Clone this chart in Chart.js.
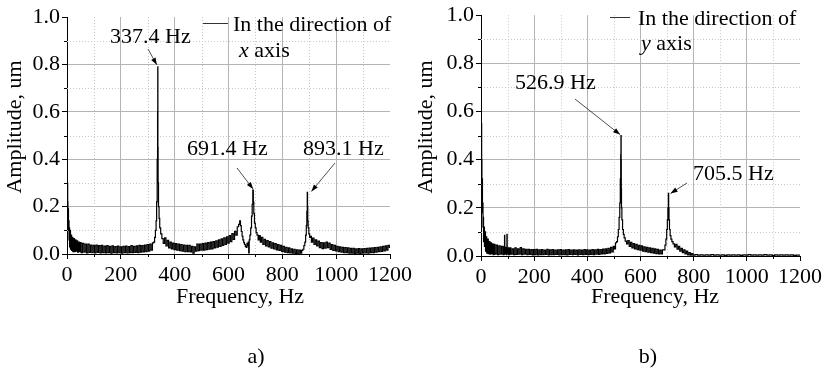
<!DOCTYPE html>
<html>
<head>
<meta charset="utf-8">
<script src="https://cdn.jsdelivr.net/npm/chart.js@4.4.1/dist/chart.umd.min.js"></script>
<style>
  body { margin: 0; background: #fff; width: 833px; height: 376px; overflow: hidden; position: relative; }
  canvas { position: absolute; top: 0; }
  #chartA { left: 0; }
  #chartB { left: 416px; }
</style>
</head>
<body>
<canvas id="chartA" width="416" height="376"></canvas>
<canvas id="chartB" width="417" height="376"></canvas>
<script>
// Spectrum a) - direction of x axis
const freqA = [
  0, 1, 2, 3, 4, 5, 6, 7, 8, 9,
  10, 12, 14, 16, 18, 20, 23, 26, 29, 32,
  35, 38, 41, 44, 47, 50, 55, 60, 65, 70,
  75, 80, 85, 90, 95, 100, 105, 110, 115, 120,
  125, 130, 135, 140, 145, 150, 155, 160, 165, 170,
  175, 180, 185, 190, 195, 200, 205, 210, 215, 220,
  225, 230, 235, 240, 245, 250, 255, 260, 265, 270,
  275, 280, 285, 290, 295, 300, 305, 310, 315, 320,
  324, 327, 330, 332, 334, 336, 337, 337.4, 338, 339,
  341, 343, 346, 350, 355, 360, 365, 370, 375, 380,
  385, 390, 395, 400, 405, 410, 415, 420, 425, 430,
  435, 440, 445, 450, 455, 460, 465, 470, 475, 480,
  485, 490, 495, 500, 505, 510, 515, 520, 525, 530,
  535, 540, 545, 550, 555, 560, 565, 570, 575, 580,
  585, 590, 595, 600, 605, 610, 615, 620, 625, 630,
  635, 640, 643, 646, 649, 652, 655, 658, 661, 664,
  667, 670, 672, 674, 676, 678, 681, 684, 687, 689,
  691.4, 693, 695, 698, 701, 704, 708, 712, 716, 720,
  725, 730, 735, 740, 745, 750, 755, 760, 765, 770,
  775, 780, 785, 790, 795, 800, 805, 810, 815, 820,
  825, 830, 835, 840, 845, 850, 855, 860, 865, 870,
  874, 878, 882, 885, 888, 890, 892, 893.1, 894, 895,
  897, 900, 903, 906, 910, 915, 920, 925, 930, 935,
  940, 945, 950, 955, 960, 965, 970, 975, 980, 985,
  990, 995, 1000, 1005, 1010, 1015, 1020, 1025, 1030, 1035,
  1040, 1045, 1050, 1055, 1060, 1065, 1070, 1075, 1080, 1085,
  1090, 1095, 1100, 1105, 1110, 1115, 1120, 1125, 1130, 1135,
  1140, 1145, 1150, 1155, 1160, 1165, 1170, 1175, 1180, 1185,
  1190, 1195, 1200
];
const ampA = [
  0.28, 0.52, 0.30, 0.22, 0.15, 0.19, 0.10, 0.14, 0.06, 0.11,
  0.03, 0.10, 0.02, 0.08, 0.015, 0.07, 0.01, 0.065, 0.01, 0.06,
  0.012, 0.055, 0.008, 0.05, 0.01, 0.048, 0.006, 0.045, 0.008, 0.042,
  0.005, 0.042, 0.007, 0.038, 0.006, 0.036, 0.005, 0.038, 0.007, 0.035,
  0.005, 0.036, 0.006, 0.033, 0.005, 0.035, 0.006, 0.032, 0.004, 0.034,
  0.006, 0.031, 0.005, 0.033, 0.006, 0.030, 0.004, 0.032, 0.006, 0.033,
  0.005, 0.031, 0.006, 0.035, 0.006, 0.032, 0.007, 0.034, 0.006, 0.036,
  0.008, 0.035, 0.009, 0.038, 0.010, 0.040, 0.012, 0.042, 0.016, 0.047,
  0.05, 0.07, 0.10, 0.14, 0.22, 0.40, 0.60, 0.79, 0.45, 0.30,
  0.20, 0.15, 0.11, 0.085, 0.065, 0.045, 0.068, 0.034, 0.058, 0.026,
  0.050, 0.022, 0.046, 0.018, 0.044, 0.016, 0.042, 0.014, 0.040, 0.012,
  0.038, 0.010, 0.037, 0.010, 0.036, 0.009, 0.032, 0.004, 0.030, 0.012,
  0.042, 0.014, 0.042, 0.016, 0.044, 0.016, 0.046, 0.018, 0.048, 0.020,
  0.050, 0.022, 0.052, 0.026, 0.056, 0.029, 0.060, 0.032, 0.064, 0.036,
  0.068, 0.040, 0.072, 0.046, 0.078, 0.052, 0.086, 0.062, 0.096, 0.080,
  0.115, 0.125, 0.14, 0.12, 0.095, 0.075, 0.06, 0.048, 0.04, 0.032,
  0.028, 0.045, 0.035, 0.05, 0.005, 0.06, 0.08, 0.11, 0.16, 0.21,
  0.27, 0.22, 0.17, 0.13, 0.11, 0.09, 0.08, 0.060, 0.078, 0.050,
  0.070, 0.040, 0.062, 0.034, 0.057, 0.030, 0.052, 0.025, 0.047, 0.021,
  0.044, 0.017, 0.040, 0.015, 0.036, 0.011, 0.032, 0.008, 0.028, 0.006,
  0.026, 0.005, 0.022, 0.004, 0.020, 0.003, 0.018, 0.002, 0.016, 0.004,
  0.015, 0.02, 0.035, 0.05, 0.08, 0.12, 0.18, 0.26, 0.20, 0.14,
  0.11, 0.085, 0.07, 0.075, 0.050, 0.067, 0.040, 0.060, 0.034, 0.054,
  0.027, 0.048, 0.023, 0.047, 0.025, 0.050, 0.027, 0.046, 0.019, 0.040,
  0.015, 0.036, 0.013, 0.032, 0.010, 0.030, 0.008, 0.028, 0.006, 0.027,
  0.006, 0.026, 0.004, 0.024, 0.004, 0.024, 0.003, 0.022, 0.004, 0.023,
  0.003, 0.022, 0.004, 0.023, 0.005, 0.024, 0.004, 0.025, 0.006, 0.026,
  0.006, 0.027, 0.008, 0.028, 0.010, 0.030, 0.011, 0.032, 0.013, 0.034,
  0.016, 0.036, 0.028
];

// Spectrum b) - direction of y axis
const freqB = [
  0, 1, 2, 3, 4, 5, 6, 7, 8, 9,
  10, 12, 14, 16, 18, 20, 23, 26, 29, 32,
  35, 38, 41, 44, 47, 50, 55, 60, 65, 70,
  75, 80, 85, 88, 89, 90, 95, 97, 98, 99,
  102, 106, 110, 115, 120, 125, 130, 135, 140, 145,
  150, 155, 160, 165, 170, 175, 180, 185, 190, 195,
  200, 205, 210, 215, 220, 225, 230, 235, 240, 245,
  250, 255, 260, 265, 270, 275, 280, 285, 290, 295,
  300, 305, 310, 315, 320, 325, 330, 335, 340, 345,
  350, 355, 360, 365, 370, 375, 380, 385, 390, 395,
  400, 405, 410, 415, 420, 425, 430, 435, 440, 445,
  450, 455, 460, 465, 470, 475, 480, 485, 490, 495,
  500, 504, 508, 512, 515, 518, 521, 523, 525, 526,
  526.9, 527.5, 528, 529, 531, 534, 537, 540, 545, 550,
  555, 560, 565, 570, 575, 580, 585, 590, 595, 600,
  605, 610, 615, 620, 625, 630, 635, 640, 645, 650,
  655, 660, 665, 670, 675, 680, 685, 690, 694, 697,
  700, 702, 704, 705.5, 706.5, 708, 710, 713, 716, 720,
  725, 730, 735, 740, 745, 750, 755, 760, 765, 770,
  775, 780, 785, 790, 795, 800, 810, 820, 830, 840,
  850, 860, 870, 880, 890, 900, 910, 920, 930, 940,
  950, 960, 970, 980, 990, 1000, 1010, 1020, 1030, 1040,
  1050, 1060, 1070, 1080, 1090, 1100, 1110, 1120, 1130, 1140,
  1150, 1160, 1170, 1180, 1190, 1200
];
const ampB = [
  0.35, 0.80, 0.55, 0.40, 0.28, 0.32, 0.18, 0.22, 0.12, 0.16,
  0.06, 0.12, 0.04, 0.10, 0.02, 0.08, 0.012, 0.07, 0.01, 0.06,
  0.008, 0.055, 0.01, 0.05, 0.006, 0.048, 0.008, 0.045, 0.006, 0.042,
  0.008, 0.040, 0.006, 0.038, 0.086, 0.008, 0.036, 0.006, 0.090, 0.010,
  0.034, 0.006, 0.034, 0.008, 0.030, 0.006, 0.034, 0.007, 0.030, 0.008,
  0.035, 0.006, 0.030, 0.008, 0.028, 0.006, 0.028, 0.007, 0.027, 0.005,
  0.027, 0.006, 0.028, 0.005, 0.026, 0.006, 0.027, 0.006, 0.025, 0.007,
  0.028, 0.005, 0.026, 0.006, 0.027, 0.006, 0.025, 0.007, 0.026, 0.005,
  0.027, 0.006, 0.025, 0.006, 0.026, 0.005, 0.027, 0.007, 0.025, 0.006,
  0.026, 0.007, 0.024, 0.005, 0.026, 0.007, 0.025, 0.006, 0.027, 0.007,
  0.026, 0.006, 0.025, 0.007, 0.027, 0.006, 0.026, 0.008, 0.028, 0.007,
  0.027, 0.009, 0.029, 0.009, 0.030, 0.011, 0.032, 0.013, 0.036, 0.017,
  0.040, 0.030, 0.055, 0.06, 0.08, 0.11, 0.16, 0.22, 0.32, 0.42,
  0.50, 0.40, 0.28, 0.20, 0.15, 0.11, 0.09, 0.075, 0.062, 0.050,
  0.064, 0.040, 0.057, 0.034, 0.052, 0.030, 0.048, 0.026, 0.044, 0.024,
  0.042, 0.020, 0.038, 0.018, 0.036, 0.016, 0.034, 0.014, 0.032, 0.012,
  0.030, 0.010, 0.028, 0.009, 0.024, 0.009, 0.026, 0.025, 0.045, 0.07,
  0.11, 0.15, 0.20, 0.26, 0.20, 0.15, 0.11, 0.085, 0.07, 0.06,
  0.05, 0.038, 0.048, 0.028, 0.040, 0.020, 0.032, 0.014, 0.026, 0.009,
  0.020, 0.005, 0.014, 0.004, 0.010, 0.004, 0.006, 0.004, 0.005, 0.004,
  0.005, 0.004, 0.006, 0.004, 0.005, 0.004, 0.005, 0.003, 0.005, 0.004,
  0.005, 0.004, 0.005, 0.003, 0.005, 0.004, 0.006, 0.004, 0.005, 0.004,
  0.005, 0.004, 0.006, 0.004, 0.005, 0.003, 0.005, 0.004, 0.005, 0.004,
  0.005, 0.004, 0.005, 0.003, 0.004, 0.004
];

// Marked peaks
const peaksA = [337.4, 691.4, 893.1];
const peakAmpA = [0.79, 0.27, 0.26];
const peaksB = [526.9, 705.5];
const peakAmpB = [0.50, 0.26];

// Minor grid positions (dotted)
const minorFreq = [100, 300, 500, 700, 900, 1100];
const minorAmp = [0.1, 0.3, 0.5, 0.7, 0.9];

const FONT = "'Liberation Serif', 'Times New Roman', serif";

function arrow(ctx, x1, y1, x2, y2) {
    ctx.beginPath();
    ctx.moveTo(x1, y1);
    ctx.lineTo(x2, y2);
    ctx.stroke();
    const a = Math.atan2(y2 - y1, x2 - x1), L = 7, W = 2.5;
    ctx.beginPath();
    ctx.moveTo(x2, y2);
    ctx.lineTo(x2 - L * Math.cos(a) + W * Math.sin(a), y2 - L * Math.sin(a) - W * Math.cos(a));
    ctx.lineTo(x2 - L * Math.cos(a) - W * Math.sin(a), y2 - L * Math.sin(a) + W * Math.cos(a));
    ctx.closePath();
    ctx.fill();
}

// Draws minor grid, minor ticks, legend, peak labels, axis titles and caption
const decorPlugin = {
    id: 'decor',
    beforeDatasetsDraw: (chart, args, o) => {
        const ctx = chart.ctx, area = chart.chartArea, x = chart.scales.x, y = chart.scales.y;
        ctx.save();
        ctx.strokeStyle = '#c8c8c8';
        ctx.lineWidth = 1;
        ctx.setLineDash([1, 2]);
        minorFreq.forEach(f => {
            const px = Math.round(x.getPixelForValue(f)) + 0.5;
            ctx.beginPath(); ctx.moveTo(px, area.top); ctx.lineTo(px, area.bottom); ctx.stroke();
        });
        minorAmp.forEach(v => {
            const py = Math.round(y.getPixelForValue(v)) + 0.5;
            ctx.beginPath(); ctx.moveTo(area.left, py); ctx.lineTo(area.right, py); ctx.stroke();
        });
        ctx.restore();
    },
    afterDraw: (chart, args, o) => {
        const ctx = chart.ctx, area = chart.chartArea, x = chart.scales.x, y = chart.scales.y;
        ctx.save();
        // minor ticks
        ctx.strokeStyle = '#000';
        ctx.lineWidth = 1;
        minorFreq.forEach(f => {
            const px = Math.round(x.getPixelForValue(f)) + 0.5;
            ctx.beginPath(); ctx.moveTo(px, area.bottom); ctx.lineTo(px, area.bottom + 3); ctx.stroke();
        });
        minorAmp.forEach(v => {
            const py = Math.round(y.getPixelForValue(v)) + 0.5;
            ctx.beginPath(); ctx.moveTo(area.left, py); ctx.lineTo(area.left - 3, py); ctx.stroke();
        });

        ctx.fillStyle = '#000';
        ctx.font = '22px ' + FONT;
        ctx.textBaseline = 'alphabetic';

        // legend
        const lg = o.legend;
        ctx.strokeStyle = '#333';
        ctx.beginPath(); ctx.moveTo(lg.x1, lg.ly); ctx.lineTo(lg.x2, lg.ly); ctx.stroke();
        ctx.textAlign = 'left';
        ctx.fillText('In the direction of', lg.tx, lg.ty1);
        ctx.font = 'italic 22px ' + FONT;
        ctx.fillText(lg.axis, lg.tx2, lg.ty2);
        const w = ctx.measureText(lg.axis).width;
        ctx.font = '22px ' + FONT;
        ctx.fillText(' axis', lg.tx2 + w, lg.ty2);

        // peak labels with arrows
        ctx.strokeStyle = '#222';
        ctx.fillStyle = '#000';
        ctx.lineWidth = 0.8;
        o.peaks.forEach((p, i) => {
            ctx.fillText(p.label, p.tx, p.ty);
            const px = x.getPixelForValue(o.freq[i]) + p.dx;
            const py = y.getPixelForValue(o.amp[i]) + p.dy;
            arrow(ctx, p.fx, p.fy, px, py);
        });

        // axis titles and caption
        ctx.textAlign = 'center';
        ctx.fillText('Frequency, Hz', o.xTitle[0], o.xTitle[1]);
        ctx.fillText(o.caption, o.capPos[0], o.capPos[1]);
        ctx.translate(o.yTitle[0], o.yTitle[1]);
        ctx.rotate(-Math.PI / 2);
        ctx.fillText('Amplitude, um', 0, 0);
        ctx.restore();
    }
};

function makeChart(id, freq, amp, yWidth, pad, xHeight, decor) {
    const points = freq.map((f, i) => ({ x: f, y: amp[i] }));
    return new Chart(document.getElementById(id).getContext('2d'), {
        type: 'line',
        data: {
            datasets: [{
                data: points,
                borderColor: '#000',
                borderWidth: 1.2,
                pointRadius: 0,
                stepped: 'middle', // dense noise reads as a solid band
                fill: false
            }]
        },
        options: {
            responsive: false,
            animation: false,
            devicePixelRatio: 1,
            layout: { padding: pad },
            plugins: { legend: { display: false }, tooltip: { enabled: false }, decor: decor },
            scales: {
                x: {
                    type: 'linear',
                    min: 0,
                    max: 1200,
                    afterFit: s => { s.height = xHeight; },
                    ticks: {
                        stepSize: 200,
                        color: '#000',
                        padding: 3,
                        maxRotation: 0,
                        minRotation: 0,
                        autoSkip: false,
                        font: { family: FONT, size: 22 },
                        callback: v => String(v)
                    },
                    grid: {
                        color: c => (c.tick && c.tick.value === 1200) ? 'rgba(0,0,0,0)' : '#b4b4b4',
                        tickColor: '#000',
                        tickLength: 5
                    },
                    border: { color: '#000', width: 1 }
                },
                y: {
                    min: 0,
                    max: 1,
                    afterFit: s => { s.width = yWidth; },
                    ticks: {
                        stepSize: 0.2,
                        color: '#000',
                        padding: 2,
                        font: { family: FONT, size: 22 },
                        callback: v => v.toFixed(1)
                    },
                    grid: {
                        color: c => (c.tick && c.tick.value > 0.99) ? 'rgba(0,0,0,0)' : '#b4b4b4',
                        tickColor: '#000',
                        tickLength: 5
                    },
                    border: { color: '#000', width: 1 }
                }
            }
        },
        plugins: [decorPlugin]
    });
}

makeChart('chartA', freqA, ampA, 67, { top: 17, right: 26, left: 0, bottom: 0 }, 122, {
    freq: peaksA,
    amp: peakAmpA,
    peaks: [
        { label: '337.4 Hz', tx: 110, ty: 43, fx: 148, fy: 49, dx: -1, dy: -2 },
        { label: '691.4 Hz', tx: 187, ty: 155, fx: 237, fy: 168, dx: 0, dy: -1 },
        { label: '893.1 Hz', tx: 303, ty: 155, fx: 335, fy: 163, dx: 4, dy: -1 }
    ],
    legend: { x1: 203, x2: 228, ly: 23.5, tx: 233, ty1: 31, axis: 'x', tx2: 239, ty2: 57 },
    xTitle: [240, 303],
    yTitle: [21, 127],
    caption: 'a)',
    capPos: [256, 363]
});

makeChart('chartB', freqB, ampB, 65, { top: 12, right: 33, left: 0, bottom: 0 }, 120, {
    freq: peaksB,
    amp: peakAmpB,
    peaks: [
        { label: '526.9 Hz', tx: 99, ty: 89, fx: 159, fy: 99, dx: -1, dy: -1 },
        { label: '705.5 Hz', tx: 277, ty: 180, fx: 271, fy: 183, dx: 2, dy: 0 }
    ],
    legend: { x1: 194, x2: 214, ly: 17.5, tx: 222, ty1: 25, axis: 'y', tx2: 225, ty2: 50 },
    xTitle: [239, 303],
    yTitle: [16, 127],
    caption: 'b)',
    capPos: [232, 363]
});
</script>
</body>
</html>
